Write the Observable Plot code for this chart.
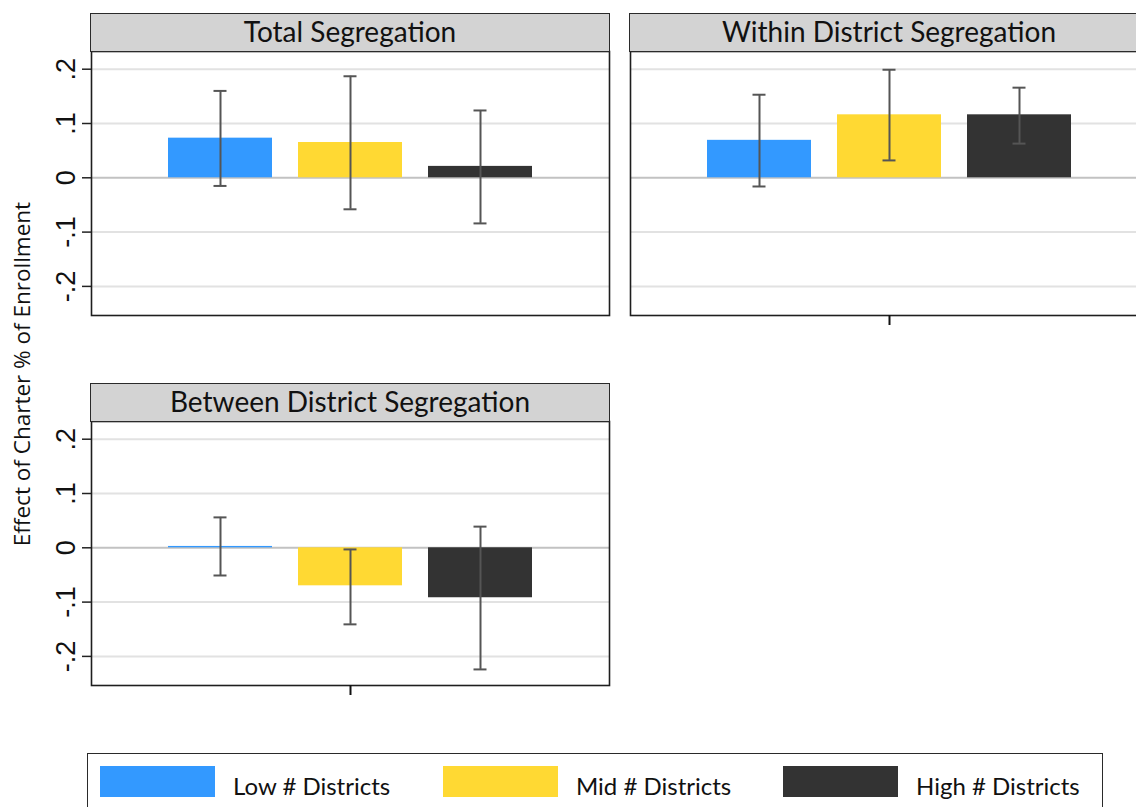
<!DOCTYPE html>
<html>
<head>
<meta charset="utf-8">
<script src="https://cdn.jsdelivr.net/npm/d3@7"></script>
<script src="https://cdn.jsdelivr.net/npm/@observablehq/plot@0.6"></script>
<style>
  html, body { margin: 0; padding: 0; background: #fff; }
  body { width: 1136px; height: 807px; overflow: hidden; position: relative; }
  .strip { position: absolute; box-sizing: border-box; background: #d3d3d3; border: 1.5px solid #2a2a2a;
           font-family: Lato, sans-serif; font-size: 28px; color: #111; text-align: center; line-height: 35px; white-space: nowrap; overflow: hidden; }
  .ytitle { position: absolute; left: 21px; top: 374px; transform: translate(-50%, -50%) rotate(-90deg);
            font-family: "Open Sans", sans-serif; font-size: 22.5px; color: #111; white-space: nowrap; }
  .legbox { position: absolute; left: 87px; top: 753px; width: 1016px; height: 80px; box-sizing: border-box; border: 1.5px solid #2a2a2a; }
  .sw { position: absolute; top: 766px; width: 115px; height: 31px; }
  .lt { position: absolute; top: 773px; font-family: Lato, sans-serif; font-size: 24px; line-height: 26px; color: #111; white-space: nowrap; }
</style>
</head>
<body>
<div id="root"></div>
<script>
// ---- data ----
const groups = ["Low # Districts", "Mid # Districts", "High # Districts"];
const colors = ["#3399ff", "#ffd933", "#333333"];
const panelTitles = ["Total Segregation", "Within District Segregation", "Between District Segregation"];

const totalEst = [0.073, 0.065, 0.021];
const totalLo  = [-0.015, -0.058, -0.084];
const totalHi  = [0.160, 0.187, 0.124];

const withinEst = [0.069, 0.116, 0.116];
const withinLo  = [-0.016, 0.032, 0.063];
const withinHi  = [0.153, 0.199, 0.166];

const betweenEst = [0.0025, -0.070, -0.092];
const betweenLo  = [-0.051, -0.141, -0.224];
const betweenHi  = [0.056, -0.003, 0.039];

const yTicks = [-0.2, -0.1, 0, 0.1, 0.2];
const yTickLabels = ["-.2", "-.1", "0", ".1", ".2"];
const yDomain = [-0.2536, 0.2326];
const yTitle = "Effect of Charter % of Enrollment";

// ---- chart builder ----
function panel(est, lo, hi, showY, showX) {
  const data = groups.map((g, i) => ({group: g, value: est[i], lo: lo[i], hi: hi[i]}));
  const ml = showY ? 91 : 10;
  return Plot.plot({
    width: ml + 518 + 2,
    height: 290,
    marginLeft: ml, marginRight: 2, marginTop: 11, marginBottom: 15,
    style: {background: "transparent", overflow: "visible", fontFamily: "Liberation Sans, Arial, sans-serif"},
    x: {domain: groups, paddingInner: 0.2, paddingOuter: 0.592, axis: null},
    y: {domain: yDomain, axis: null},
    color: {domain: groups, range: colors},
    marks: [
      Plot.gridY(yTicks.filter(d => d !== 0), {stroke: "#e2e2e2", strokeOpacity: 1, strokeWidth: 2}),
      Plot.ruleY([0], {stroke: "#c2c2c2", strokeWidth: 2}),
      Plot.barY(data, {x: "group", y: "value", fill: "group"}),
      Plot.ruleX(data, {x: "group", y1: "lo", y2: "hi", stroke: "#555", strokeWidth: 2}),
      Plot.tickY(data, {x: "group", y: "lo", stroke: "#555", strokeWidth: 2, inset: 45.5}),
      Plot.tickY(data, {x: "group", y: "hi", stroke: "#555", strokeWidth: 2, inset: 45.5}),
      Plot.frame({stroke: "#1e1e1e", strokeWidth: 1.6}),
      showY ? Plot.axisY(yTicks, {
        tickSize: 9, tickPadding: 8, tickRotate: -90, label: null,
        tickFormat: d => yTickLabels[yTicks.indexOf(d)],
        fontSize: 27, stroke: "#222", strokeWidth: 1.5, fill: "#111"
      }) : null,
      showX ? Plot.axisX([groups[1]], {tickSize: 10, label: null, tickFormat: () => "", stroke: "#111", strokeWidth: 2}) : null
    ]
  });
}

const root = document.getElementById("root");
function place(el, left, top) {
  el.style.position = "absolute";
  el.style.left = left + "px";
  el.style.top = top + "px";
  root.appendChild(el);
}

place(panel(totalEst, totalLo, totalHi, true, false), 0, 40);
place(panel(withinEst, withinLo, withinHi, false, true), 620, 40);
place(panel(betweenEst, betweenLo, betweenHi, true, true), 0, 410);

const strips = [[panelTitles[0], 90, 13], [panelTitles[1], 629, 13], [panelTitles[2], 90, 383]];
for (const [t, l, tp] of strips) {
  const d = document.createElement("div");
  d.className = "strip";
  d.textContent = t;
  d.style.left = l + "px"; d.style.top = tp + "px";
  d.style.width = "520px"; d.style.height = "39px";
  root.appendChild(d);
}

const yt = document.createElement("div");
yt.className = "ytitle";
yt.textContent = yTitle;
root.appendChild(yt);

// legend
const lb = document.createElement("div");
lb.className = "legbox";
root.appendChild(lb);
const swLeft = [100, 443, 783];
groups.forEach((g, i) => {
  const s = document.createElement("div");
  s.className = "sw";
  s.style.left = swLeft[i] + "px";
  s.style.background = colors[i];
  root.appendChild(s);
  const t = document.createElement("div");
  t.className = "lt";
  t.style.left = (swLeft[i] + 133) + "px";
  t.textContent = g;
  root.appendChild(t);
});
</script>
</body>
</html>
